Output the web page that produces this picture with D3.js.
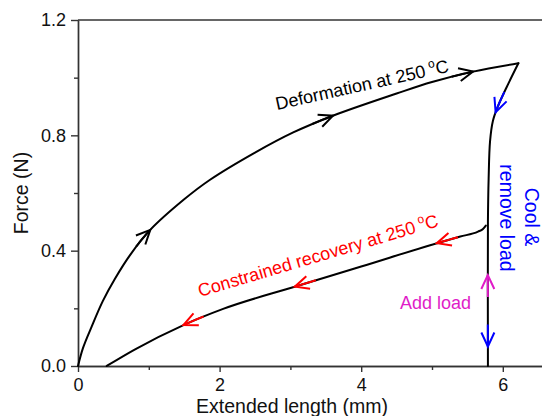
<!DOCTYPE html>
<html>
<head>
<meta charset="utf-8">
<script src="https://cdn.jsdelivr.net/npm/d3@7"></script>
<style>
  body { margin: 0; background: #fff; }
  svg { display: block; font-family: "Liberation Sans", Arial, sans-serif; }
</style>
</head>
<body>
<div id="chart-area"></div>
<script>
// loading at 250 C (force vs extension)
let loadX = [0, 0.07, 0.19, 0.35, 0.52, 0.75, 1.02, 1.5, 1.86, 2.5, 3.04, 3.6, 4.5, 5.0, 5.58, 6.22];
let loadY = [0, 0.062, 0.135, 0.225, 0.302, 0.39, 0.472, 0.578, 0.645, 0.74, 0.81, 0.868, 0.945, 0.985, 1.021, 1.05];

// cooling / unloading branch, ends on the x axis
let unloadX = [6.22, 6.07, 5.93, 5.86, 5.82, 5.8, 5.79, 5.79];
let unloadY = [1.05, 0.975, 0.9, 0.85, 0.78, 0.65, 0.5, 0];

// constrained recovery branch
let recX = [0.405, 0.8, 1.49, 2.05, 3.06, 4.0, 5.07, 5.4, 5.65, 5.72, 5.76];
let recY = [0, 0.057, 0.142, 0.198, 0.275, 0.345, 0.426, 0.449, 0.466, 0.475, 0.487];

// where the direction arrows sit
let loadArrowX = [1.02, 3.6, 5.58];
let recArrowX = [1.49, 3.06, 5.07];
let coolArrowY = [0.88, 0.067];
let addArrowY = [0.316];

let yTicks = [0, 0.4, 0.8, 1.2];
let yMinor = [0.2, 0.6, 1.0];
let xTicks = [0, 2, 4, 6];
let xMinor = [1, 3, 5, 7];

let W = 542, H = 416;
let svg = d3.select("#chart-area").append("svg")
  .attr("width", W).attr("height", H);

let x = d3.scaleLinear().domain([0, 7]).range([78, 78 + 7 * 70.8]);
let y = d3.scaleLinear().domain([0, 1.2]).range([366, 20]);

let axisColor = "#333";

// frame top line
svg.append("line")
  .attr("x1", x(0)).attr("x2", x(7))
  .attr("y1", y(1.2)).attr("y2", y(1.2))
  .attr("stroke", axisColor).attr("stroke-width", 1.4);

// axes
let yAxis = svg.append("g").attr("transform", "translate(" + x(0) + ",0)")
  .call(d3.axisLeft(y).tickValues(yTicks).tickSize(7).tickSizeOuter(0).tickFormat(d3.format(".1f")));
svg.append("g").attr("transform", "translate(" + x(0) + ",0)")
  .call(d3.axisLeft(y).tickValues(yMinor).tickSize(4).tickSizeOuter(0).tickFormat(""));

let xAxis = svg.append("g").attr("transform", "translate(0," + y(0) + ")")
  .call(d3.axisBottom(x).tickValues(xTicks).tickSize(6).tickSizeOuter(0).tickFormat(d3.format("d")));
svg.append("g").attr("transform", "translate(0," + y(0) + ")")
  .call(d3.axisBottom(x).tickValues(xMinor).tickSize(4).tickSizeOuter(0).tickFormat(""));

svg.selectAll(".domain, .tick line")
  .attr("stroke", axisColor).attr("stroke-width", 1.4);

yAxis.selectAll("text")
  .attr("font-size", 18).attr("fill", "#111")
  .attr("x", -12).attr("font-family", "Liberation Sans, Arial, sans-serif");
xAxis.selectAll("text")
  .attr("font-size", 18).attr("fill", "#111")
  .attr("y", 12).attr("font-family", "Liberation Sans, Arial, sans-serif");

// axis titles
svg.append("text")
  .attr("transform", "translate(28,193) rotate(-90)")
  .attr("text-anchor", "middle")
  .attr("font-size", 19.5).attr("fill", "#111")
  .text("Force (N)");

svg.append("text")
  .attr("x", 292).attr("y", 413)
  .attr("text-anchor", "middle")
  .attr("font-size", 19.5).attr("fill", "#111")
  .text("Extended length (mm)");

// curves
let lineMono = d3.line().x(d => x(d[0])).y(d => y(d[1])).curve(d3.curveMonotoneX);
let lineCR = d3.line().x(d => x(d[0])).y(d => y(d[1])).curve(d3.curveCatmullRom.alpha(0.5));

function drawCurve(xs, ys, gen) {
  return svg.append("path")
    .datum(d3.zip(xs, ys))
    .attr("d", gen)
    .attr("fill", "none")
    .attr("stroke", "#000")
    .attr("stroke-width", 2)
    .attr("stroke-linejoin", "round")
    .attr("stroke-linecap", "round")
    .node();
}

let loadPath = drawCurve(loadX, loadY, lineCR);
let unloadPath = drawCurve(unloadX, unloadY, lineCR);
let recPath = drawCurve(recX, recY, lineMono);

// find the length along a path closest to a target
function nearestLength(node, dist) {
  let total = node.getTotalLength(), best = 0, bestD = Infinity;
  for (let l = 0; l <= total; l += 0.5) {
    let d = dist(node.getPointAtLength(l));
    if (d < bestD) { bestD = d; best = l; }
  }
  return best;
}

// open chevron arrow with a short coloured shaft trailing along the path
function drawArrow(node, len, reverse, color) {
  let total = node.getTotalLength();
  let p = node.getPointAtLength(len);
  let a = node.getPointAtLength(Math.max(0, len - 2));
  let b = node.getPointAtLength(Math.min(total, len + 2));
  let ux = b.x - a.x, uy = b.y - a.y, m = Math.hypot(ux, uy);
  ux /= m; uy /= m;
  if (reverse) { ux = -ux; uy = -uy; }

  let shaft = [];
  for (let s = 0; s <= 22; s++) {
    let q = node.getPointAtLength(Math.max(0, Math.min(total, reverse ? len + s : len - s)));
    shaft.push([q.x, q.y]);
  }
  svg.append("path")
    .attr("d", d3.line()(shaft))
    .attr("fill", "none").attr("stroke", color).attr("stroke-width", 2);

  let L = 14, Wd = 6.5, nx = -uy, ny = ux;
  let w1 = [p.x - L * ux + Wd * nx, p.y - L * uy + Wd * ny];
  let w2 = [p.x - L * ux - Wd * nx, p.y - L * uy - Wd * ny];
  svg.append("path")
    .attr("d", d3.line()([w1, [p.x, p.y], w2]))
    .attr("fill", "none").attr("stroke", color)
    .attr("stroke-width", 2).attr("stroke-linejoin", "miter");
}

loadArrowX.forEach(function(v) {
  let l = nearestLength(loadPath, p => Math.abs(p.x - x(v)));
  drawArrow(loadPath, l, false, "#000");
});
recArrowX.forEach(function(v) {
  let l = nearestLength(recPath, p => Math.abs(p.x - x(v)));
  drawArrow(recPath, l, true, "#ff0000");
});
coolArrowY.forEach(function(v) {
  let l = nearestLength(unloadPath, p => Math.abs(p.y - y(v)));
  drawArrow(unloadPath, l, false, "#0000ff");
});
addArrowY.forEach(function(v) {
  let l = nearestLength(unloadPath, p => Math.abs(p.y - y(v)));
  drawArrow(unloadPath, l, true, "#e01cc8");
});

// annotations
function degreeLabel(g, main) {
  g.append("tspan").text(main);
  g.append("tspan").attr("dx", 4).attr("dy", -8).attr("font-size", 12).text("o");
  g.append("tspan").attr("dy", 8).text("C");
}

let t1 = svg.append("text")
  .attr("transform", "translate(277,110) rotate(-12.5)")
  .attr("font-size", 18).attr("fill", "#000");
degreeLabel(t1, "Deformation at 250");

let t2 = svg.append("text")
  .attr("transform", "translate(200,297) rotate(-16.5)")
  .attr("font-size", 18).attr("fill", "#ff0000");
degreeLabel(t2, "Constrained recovery at 250");

svg.append("text")
  .attr("x", 400).attr("y", 309)
  .attr("font-size", 18).attr("fill", "#e01cc8")
  .text("Add load");

svg.append("text")
  .attr("transform", "translate(525,217) rotate(90)")
  .attr("text-anchor", "middle")
  .attr("font-size", 19.5).attr("fill", "#0000ff")
  .text("Cool &");
svg.append("text")
  .attr("transform", "translate(500,218) rotate(90)")
  .attr("text-anchor", "middle")
  .attr("font-size", 19.5).attr("fill", "#0000ff")
  .text("remove load");
</script>
</body>
</html>
